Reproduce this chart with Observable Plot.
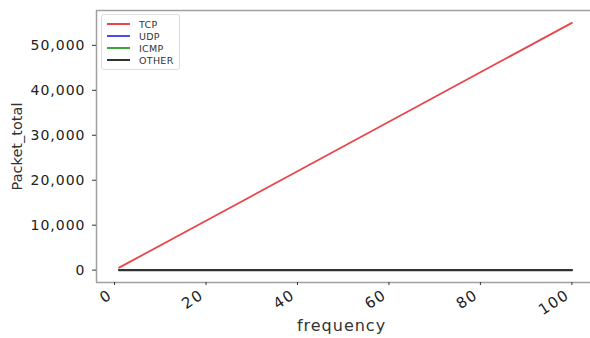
<!DOCTYPE html>
<html><head><meta charset="utf-8">
<script src="https://cdn.jsdelivr.net/npm/d3@7"></script>
<script src="https://cdn.jsdelivr.net/npm/@observablehq/plot@0.6"></script>
<style>
body{margin:0;background:#fff;}
#wrap{position:relative;width:590px;height:338px;overflow:hidden;font-family:"DejaVu Sans",sans-serif;}
#wrap svg{overflow:hidden;}
#legend{position:absolute;left:101px;top:14px;padding:3px 5px 3px 5px;border:1px solid #ddd;border-radius:3px;background:#fff;font-size:9.5px;color:#333;letter-spacing:0.3px;}
.row{display:flex;align-items:center;height:12px;}
.sw{width:23px;height:2px;margin-right:9px;}
#wrap svg g[aria-label="y-axis tick label"] text{letter-spacing:1px;}
#wrap svg g[aria-label="x-axis tick label"] text{letter-spacing:1.5px;}
.xlab{letter-spacing:1px;}
</style></head>
<body><div id="wrap"></div>
<script>
const frequency = [1, 20, 40, 60, 80, 100];
const tcp   = [550, 11000, 22000, 33000, 44000, 55000];
const udp   = [0, 0, 0, 0, 0, 0];
const icmp  = [0, 0, 0, 0, 0, 0];
const other = [0, 0, 0, 0, 0, 0];
const seriesNames = ["TCP", "UDP", "ICMP", "OTHER"];
const seriesColors = ["#e8464a", "#4a4cf0", "#3aa63a", "#333333"];
const yTicks = [0, 10000, 20000, 30000, 40000, 50000];
const xTicks = [0, 20, 40, 60, 80, 100];

const seriesValues = [tcp, udp, icmp, other];
const rows = [];
seriesNames.forEach((s, i) => frequency.forEach((f, j) => rows.push({series: s, frequency: f, value: seriesValues[i][j]})));

const xDomain = [-3.95, 104.95];
const yDomain = [-2750, 57750];

const chart = Plot.plot({
  width: 590, height: 338,
  marginLeft: 96, marginTop: 10, marginBottom: 56, marginRight: 0,
  style: {fontFamily: "DejaVu Sans, sans-serif", background: "#fff", color: "#333"},
  x: {domain: xDomain, range: [96, 594]},
  y: {domain: yDomain},
  color: {domain: seriesNames, range: seriesColors},
  marks: [
    Plot.ruleX([xDomain[0]], {stroke: "#a0a0a0", strokeWidth: 1.5}),
    Plot.ruleY(yDomain, {stroke: "#a0a0a0", strokeWidth: 1.5}),
    Plot.axisY(yTicks, {tickSize: 4, tickPadding: 7, tickFormat: d3.format(","), fontSize: 14, fill: "#222", stroke: "#333", label: null}),
    Plot.axisX(xTicks, {tickSize: 3, tickFormat: () => "", stroke: "#333", label: null}),
    Plot.axisX(xTicks, {tickSize: 0, tickPadding: 11, tickRotate: -33, fontSize: 15, fill: "#222", label: null, dx: -4}),
    ...seriesNames.map(s => Plot.lineY(rows.filter(d => d.series === s), {x: "frequency", y: "value", stroke: "series", strokeWidth: s === "OTHER" ? 2.2 : 1.8})),
    Plot.text(["frequency"], {frameAnchor: "bottom", dy: 43, dx: -2, fontSize: 16, fill: "#333", textAnchor: "middle", lineAnchor: "middle", className: "xlab"}),
    Plot.text(["Packet_total"], {frameAnchor: "left", dx: -79, rotate: -90, fontSize: 14.5, fill: "#333", textAnchor: "middle", lineAnchor: "middle"})
  ]
});
const wrap = document.getElementById("wrap");
wrap.appendChild(chart);
const legend = document.createElement("div");
legend.id = "legend";
seriesNames.forEach((s, i) => {
  const r = document.createElement("div"); r.className = "row";
  const sw = document.createElement("span"); sw.className = "sw"; sw.style.background = seriesColors[i];
  const t = document.createElement("span"); t.textContent = s;
  r.appendChild(sw); r.appendChild(t); legend.appendChild(r);
});
wrap.appendChild(legend);
</script></body></html>
